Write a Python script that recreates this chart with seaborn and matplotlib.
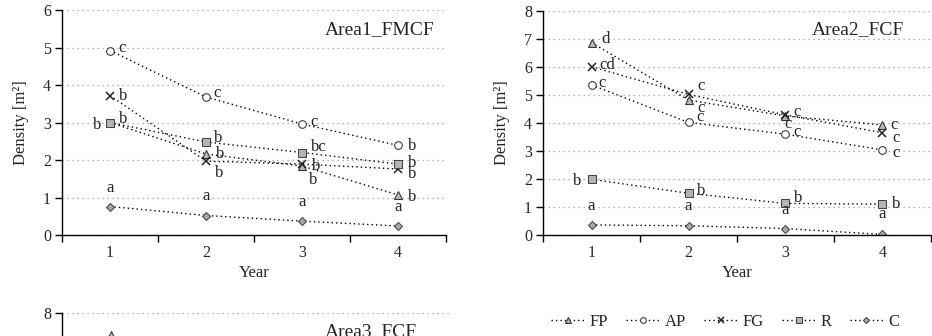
import matplotlib
matplotlib.use("Agg")
import matplotlib.pyplot as plt
import seaborn as sns
import pandas as pd

# years on the x axis
years = [1, 2, 3, 4]
series = ["FP", "AP", "FG", "R", "C"]

# Area1_FMCF densities
area1 = {
    "FP": [3.0, 2.16, 1.84, 1.07],
    "AP": [4.92, 3.68, 2.96, 2.39],
    "FG": [3.72, 1.97, 1.89, 1.76],
    "R": [3.0, 2.48, 2.20, 1.89],
    "C": [0.76, 0.52, 0.37, 0.24],
}
area1_letters = {
    "FP": ["b", "b", "b", "b"],
    "AP": ["c", "c", "c", "b"],
    "FG": ["b", "b", "b", "b"],
    "R": ["b", "b", "bc", "b"],
    "C": ["a", "a", "a", "a"],
}

# Area2_FCF densities
area2 = {
    "FP": [6.87, 4.82, 4.25, 3.93],
    "AP": [5.36, 4.02, 3.60, 3.04],
    "FG": [6.01, 5.02, 4.29, 3.65],
    "R": [1.99, 1.49, 1.13, 1.10],
    "C": [0.36, 0.33, 0.23, 0.02],
}
area2_letters = {
    "FP": ["d", "c", "c", "c"],
    "AP": ["c", "c", "c", "c"],
    "FG": ["cd", "c", "c", "c"],
    "R": ["b", "b", "b", "b"],
    "C": ["a", "a", "a", "a"],
}

# Area3_FCF: only the first FP point is visible in the cropped figure
area3_years = [1]
area3_fp = [7.2]

# letter offsets in pixels (dx, dy) for each series/year
offsets1 = {
    "FP": [(13, 4), (14, 0), (14, 0), (14, -2)],
    "AP": [(12, 3), (11, 4), (12, 2), (14, -1)],
    "FG": [(13, 0), (13, -12), (11, -16), (14, -5)],
    "R": [(-13, -2), (12, 4), (17, 6), (14, 1)],
    "C": [(0, 19), (0, 19), (0, 19), (0, 19)],
}
offsets2 = {
    "FP": [(14, 4), (13, -8), (3, -8), (12, 0)],
    "AP": [(11, 2), (12, 5), (12, 2), (14, -3)],
    "FG": [(16, 2), (13, 8), (12, 3), (14, -5)],
    "R": [(-14, -2), (13, 2), (13, 5), (14, 0)],
    "C": [(0, 19), (0, 20), (0, 19), (0, 20)],
}

styles = {
    "FP": dict(marker="^", markerfacecolor="#b8b8b8", markeredgecolor="#333333", markersize=5.5),
    "AP": dict(marker="o", markerfacecolor="white", markeredgecolor="#333333", markersize=5.5),
    "FG": dict(marker="x", markeredgecolor="#222222", markersize=6, markeredgewidth=1.1),
    "R": dict(marker="s", markerfacecolor="#b4b4b4", markeredgecolor="#444444", markersize=6),
    "C": dict(marker="D", markerfacecolor="#a8a8a8", markeredgecolor="#444444", markersize=4.2),
}

sns.set_style("ticks")
plt.rcParams["font.family"] = ["Liberation Serif", "DejaVu Serif"]

fig = plt.figure(figsize=(9.32, 3.36), dpi=100)
ax1 = fig.add_axes([62 / 932, 101 / 336, 384 / 932, 225 / 336])
ax2 = fig.add_axes([543 / 932, 101 / 336, 388 / 932, 224 / 336])
ax3 = fig.add_axes([62 / 932, -201 / 336, 390 / 932, 224 / 336])


def style_axes(ax, ymax, title, title_x):
    ax.set_xlim(0.5, 4.5)
    ax.set_ylim(0, ymax)
    ax.set_yticks(range(0, ymax + 1))
    ax.set_xticks([0.5, 1.5, 2.5, 3.5, 4.5])
    ax.set_xticklabels([])
    ax.set_xticks(years, minor=True)
    ax.set_xticklabels([str(y) for y in years], minor=True)
    ax.tick_params(axis="x", which="major", length=5, width=1, direction="out", color="k")
    ax.tick_params(axis="x", which="minor", length=0, labelsize=11.5, pad=7)
    ax.tick_params(axis="y", length=5, width=1, direction="out", labelsize=11.5, pad=3, color="k")
    ax.yaxis.grid(True, linestyle=(0, (1, 3)), color="#9a9a9a", lw=0.9)
    ax.xaxis.grid(False)
    sns.despine(ax=ax)
    for s in ["left", "bottom"]:
        ax.spines[s].set_color("k")
        ax.spines[s].set_linewidth(1)
    ax.set_xlabel("Year", fontsize=12, labelpad=3)
    ax.set_ylabel("Density [m²]", fontsize=12, labelpad=10)
    ax.text(title_x, 0.915, title, transform=ax.transAxes, ha="right", va="center", fontsize=14)


def draw(ax, data, letters, offsets):
    for name in series:
        df = pd.DataFrame({"Year": years, "Density": data[name]})
        sns.lineplot(data=df, x="Year", y="Density", ax=ax, color="k", lw=1,
                     linestyle=(0, (1, 2.2)), label=name, legend=False, **styles[name])
        for x, y, t, (dx, dy) in zip(years, data[name], letters[name], offsets[name]):
            ax.annotate(t, (x, y), xytext=(dx, dy), textcoords="offset pixels",
                        ha="center", va="center", fontsize=12)


draw(ax1, area1, area1_letters, offsets1)
draw(ax2, area2, area2_letters, offsets2)
sns.lineplot(x=area3_years, y=area3_fp, ax=ax3, color="k", lw=1,
             linestyle=(0, (1, 2.2)), legend=False, **styles["FP"])

style_axes(ax1, 6, "Area1_FMCF", 0.971)
style_axes(ax2, 8, "Area2_FCF", 0.930)
style_axes(ax3, 8, "Area3_FCF", 0.910)

handles, labels = ax1.get_legend_handles_labels()
fig.legend(handles, labels, loc="center", bbox_to_anchor=(0.778, 0.042), ncol=5,
           frameon=False, fontsize=12, handlelength=2.0, handletextpad=0.3,
           columnspacing=1.1, markerscale=0.75)

fig.savefig("out.png", dpi=100)
